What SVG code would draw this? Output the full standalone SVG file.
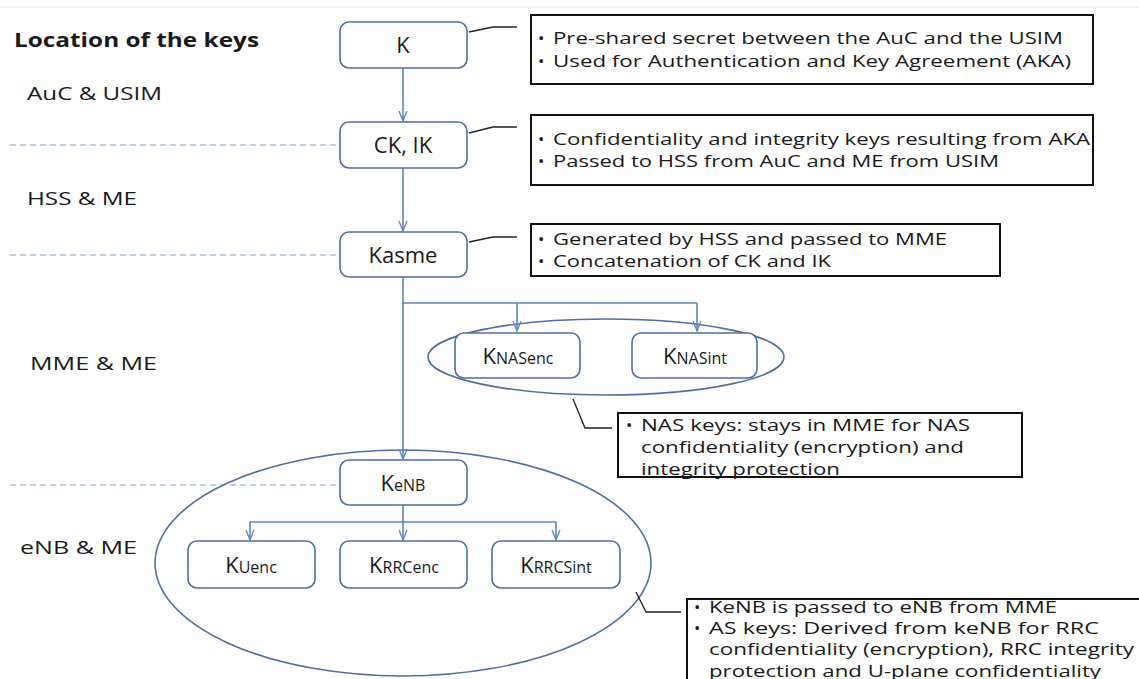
<svg xmlns="http://www.w3.org/2000/svg" width="1139" height="679" viewBox="0 0 1139 679">
  <defs>
    <marker id="arr" viewBox="0 0 12 10" refX="11" refY="5" markerWidth="12" markerHeight="10" markerUnits="userSpaceOnUse" orient="auto">
      <path d="M1,1 L11,5 L1,9" fill="none" stroke="#5b86c0" stroke-width="1.3"/>
    </marker>
    <style>
      text { font-family: "Open Sans", "Noto Sans", "Liberation Sans", sans-serif; fill: #1a1a1a; }
      .title { font-size: 20px; font-weight: bold; }
      .zone { font-size: 18px; }
      .key { font-size: 22px; text-anchor: middle; }
      .sub { font-size: 16px; }
      .note { font-size: 17px; }
      .node { fill: #ffffff; stroke: #4f6fa3; stroke-width: 1.6; }
      .group { fill: none; stroke: #4f6fa3; stroke-width: 1.6; }
      .flow { fill: none; stroke: #5b86c0; stroke-width: 1.6; }
      .zoneline { fill: none; stroke: #7a9fd0; stroke-width: 1.2; stroke-dasharray: 6 4; }
      .callout { fill: #ffffff; stroke: #111111; stroke-width: 2; }
      .leader { fill: none; stroke: #222222; stroke-width: 1.3; }
    </style>
  </defs>

  <rect width="1139" height="679" fill="#ffffff"/>
  <line x1="0" y1="7" x2="1139" y2="7" stroke="#e2e2e2" stroke-width="1"/>

  <!-- headings and zone labels -->
  <g id="labels">
    <text class="title" x="14" y="47" textLength="245" lengthAdjust="spacingAndGlyphs">Location of the keys</text>
    <text class="zone" x="27" y="100" textLength="135" lengthAdjust="spacingAndGlyphs">AuC &amp; USIM</text>
    <text class="zone" x="27" y="205" textLength="110" lengthAdjust="spacingAndGlyphs">HSS &amp; ME</text>
    <text class="zone" x="30" y="370" textLength="127" lengthAdjust="spacingAndGlyphs">MME &amp; ME</text>
    <text class="zone" x="20" y="554" textLength="117" lengthAdjust="spacingAndGlyphs">eNB &amp; ME</text>
  </g>

  <!-- zone boundaries -->
  <g id="zones">
    <line class="zoneline" x1="10" y1="145" x2="340" y2="145"/>
    <line class="zoneline" x1="10" y1="255" x2="340" y2="255"/>
    <line class="zoneline" x1="10" y1="485" x2="340" y2="485"/>
  </g>

  <!-- grouping ellipses -->
  <g id="nas-group">
    <ellipse class="group" cx="606" cy="357" rx="178" ry="38"/>
  </g>
  <g id="as-group">
    <ellipse class="group" cx="403" cy="563" rx="248" ry="113"/>
  </g>

  <!-- derivation arrows -->
  <g id="connectors">
    <line class="flow" x1="403" y1="68" x2="403" y2="121" marker-end="url(#arr)"/>
    <line class="flow" x1="403" y1="168" x2="403" y2="231" marker-end="url(#arr)"/>
    <line class="flow" x1="403" y1="277" x2="403" y2="459" marker-end="url(#arr)"/>
    <polyline class="flow" points="403,303 697,303"/>
    <line class="flow" x1="517" y1="303" x2="517" y2="331" marker-end="url(#arr)"/>
    <line class="flow" x1="697" y1="303" x2="697" y2="331" marker-end="url(#arr)"/>
    <line class="flow" x1="403" y1="505" x2="403" y2="540" marker-end="url(#arr)"/>
    <polyline class="flow" points="250,522 556,522"/>
    <line class="flow" x1="250" y1="522" x2="250" y2="540" marker-end="url(#arr)"/>
    <line class="flow" x1="556" y1="522" x2="556" y2="540" marker-end="url(#arr)"/>
  </g>

  <!-- key nodes -->
  <g id="node-k">
    <rect class="node" x="340" y="22" width="127" height="46" rx="9"/>
    <text class="key" x="403" y="53">K</text>
  </g>
  <g id="node-ckik">
    <rect class="node" x="340" y="122" width="127" height="46" rx="9"/>
    <text class="key" x="403" y="153">CK, IK</text>
  </g>
  <g id="node-kasme">
    <rect class="node" x="340" y="232" width="127" height="45" rx="9"/>
    <text class="key" x="403" y="263">Kasme</text>
  </g>
  <g id="node-knasenc">
    <rect class="node" x="455" y="333" width="125" height="45" rx="9"/>
    <text class="key" x="518" y="364">K<tspan class="sub">NASenc</tspan></text>
  </g>
  <g id="node-knasint">
    <rect class="node" x="632" y="333" width="125" height="45" rx="9"/>
    <text class="key" x="695" y="364">K<tspan class="sub">NASint</tspan></text>
  </g>
  <g id="node-kenb">
    <rect class="node" x="340" y="460" width="127" height="45" rx="9"/>
    <text class="key" x="403" y="491">K<tspan class="sub">eNB</tspan></text>
  </g>
  <g id="node-kuenc">
    <rect class="node" x="188" y="541" width="127" height="47" rx="9"/>
    <text class="key" x="251" y="573">K<tspan class="sub">Uenc</tspan></text>
  </g>
  <g id="node-krrcenc">
    <rect class="node" x="340" y="541" width="127" height="47" rx="9"/>
    <text class="key" x="404" y="573">K<tspan class="sub">RRCenc</tspan></text>
  </g>
  <g id="node-krrcsint">
    <rect class="node" x="492" y="541" width="128" height="47" rx="9"/>
    <text class="key" x="556" y="573">K<tspan class="sub">RRCSint</tspan></text>
  </g>

  <!-- explanatory notes -->
  <g id="note-k">
    <polyline class="leader" points="469,32 493,27 517,27"/>
    <rect class="callout" x="531" y="15" width="562" height="69"/>
    <text class="note" x="538" y="44">•</text>
    <text class="note" x="553" y="44" textLength="510" lengthAdjust="spacingAndGlyphs">Pre-shared secret between the AuC and the USIM</text>
    <text class="note" x="538" y="67">•</text>
    <text class="note" x="553" y="67" textLength="518" lengthAdjust="spacingAndGlyphs">Used for Authentication and Key Agreement (AKA)</text>
  </g>
  <g id="note-ckik">
    <polyline class="leader" points="469,133 493,127 517,127"/>
    <rect class="callout" x="531" y="115" width="562" height="70"/>
    <text class="note" x="538" y="145">•</text>
    <text class="note" x="553" y="145" textLength="537" lengthAdjust="spacingAndGlyphs">Confidentiality and integrity keys resulting from AKA</text>
    <text class="note" x="538" y="167">•</text>
    <text class="note" x="553" y="167" textLength="446" lengthAdjust="spacingAndGlyphs">Passed to HSS from AuC and ME from USIM</text>
  </g>
  <g id="note-kasme">
    <polyline class="leader" points="469,242 493,237 517,237"/>
    <rect class="callout" x="531" y="224" width="469" height="52"/>
    <text class="note" x="538" y="245">•</text>
    <text class="note" x="553" y="245" textLength="394" lengthAdjust="spacingAndGlyphs">Generated by HSS and passed to MME</text>
    <text class="note" x="538" y="267">•</text>
    <text class="note" x="553" y="267" textLength="278" lengthAdjust="spacingAndGlyphs">Concatenation of CK and IK</text>
  </g>
  <g id="note-nas">
    <polyline class="leader" points="573,399 585,428 612,428"/>
    <rect class="callout" x="618" y="413" width="404" height="64"/>
    <text class="note" x="626" y="431">•</text>
    <text class="note" x="641" y="431" textLength="329" lengthAdjust="spacingAndGlyphs">NAS keys: stays in MME for NAS</text>
    <text class="note" x="641" y="453" textLength="323" lengthAdjust="spacingAndGlyphs">confidentiality (encryption) and</text>
    <text class="note" x="641" y="475" textLength="199" lengthAdjust="spacingAndGlyphs">integrity protection</text>
  </g>
  <g id="note-as">
    <polyline class="leader" points="636,592 646,612 681,612"/>
    <rect class="callout" x="687" y="599" width="460" height="90"/>
    <text class="note" x="694" y="613">•</text>
    <text class="note" x="709" y="613" textLength="348" lengthAdjust="spacingAndGlyphs">KeNB is passed to eNB from MME</text>
    <text class="note" x="694" y="634">•</text>
    <text class="note" x="709" y="634" textLength="390" lengthAdjust="spacingAndGlyphs">AS keys: Derived from keNB for RRC</text>
    <text class="note" x="709" y="655" textLength="425" lengthAdjust="spacingAndGlyphs">confidentiality (encryption), RRC integrity</text>
    <text class="note" x="709" y="677" textLength="392" lengthAdjust="spacingAndGlyphs">protection and U-plane confidentiality</text>
  </g>
</svg>
